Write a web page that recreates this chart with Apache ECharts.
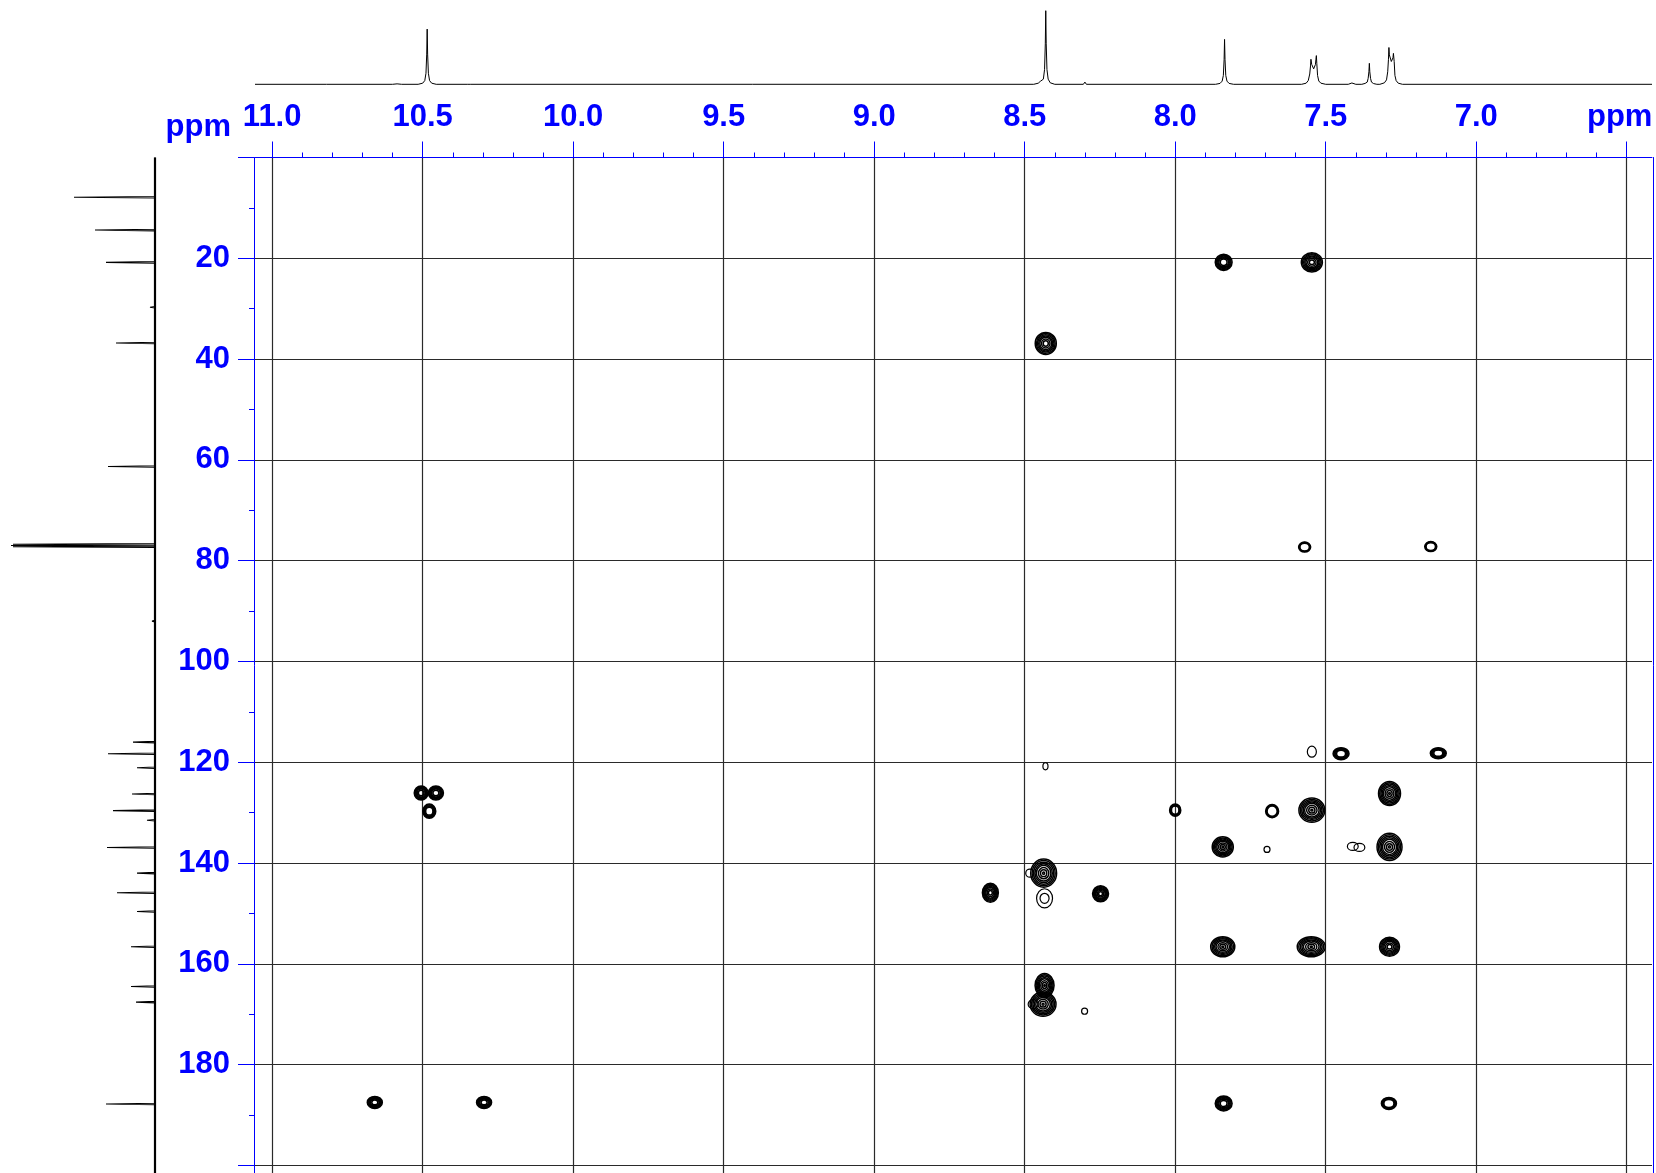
<!DOCTYPE html>
<html>
<head>
<meta charset="utf-8">
<script src="https://cdn.jsdelivr.net/npm/echarts@6/dist/echarts.min.js"></script>
<style>
html,body{margin:0;padding:0;background:#ffffff;}
#chart{width:1656px;height:1173px;}
</style>
</head>
<body>
<div id="chart"></div>
<script>
// ---------- data ----------
// 1H (F2) axis range and ticks (ppm)
const X_MIN = 6.416;
const X_MAX = 11.057;
const X_TICKS = [11.0, 10.5, 10.0, 9.5, 9.0, 8.5, 8.0, 7.5, 7.0, 6.5];
const X_MINOR = [10.9,10.8,10.7,10.6,10.4,10.3,10.2,10.1,9.9,9.8,9.7,9.6,9.4,9.3,9.2,9.1,
                 8.9,8.8,8.7,8.6,8.4,8.3,8.2,8.1,7.9,7.8,7.7,7.6,7.4,7.3,7.2,7.1,6.9,6.8,6.7,6.6];
// 13C (F1) axis range and ticks (ppm)
const Y_MIN = 0;
const Y_MAX = 201.5;
const Y_TICKS = [0, 20, 40, 60, 80, 100, 120, 140, 160, 180, 200];
const Y_LABELS = [20, 40, 60, 80, 100, 120, 140, 160, 180];
const Y_MINOR = [10, 30, 50, 70, 90, 110, 130, 150, 170, 190];

// 1H projection trace: [ppm, intensity]
const H1_TRACE = [
  [11.057, 0],
  [10.82, 0], [10.817, 0.8], [10.814, 0],
  [10.60, 0], [10.585, 0.6], [10.57, 0],
  [10.515, 0], [10.500, 1.5], [10.493, 5], [10.489, 15], [10.4865, 41], [10.485, 75], [10.4835, 41], [10.481, 15], [10.477, 5], [10.470, 1.5], [10.455, 0],
  [10.35, 0], [10.345, 0.6], [10.34, 0],
  [8.47, 0], [8.455, 1.5], [8.448, 4], [8.443, 3], [8.438, 7], [8.434, 20], [8.4315, 55], [8.430, 100], [8.4285, 55], [8.426, 20], [8.422, 7], [8.415, 2], [8.40, 0],
  [8.305, 0], [8.300, 3], [8.295, 0],
  [7.866, 0], [7.851, 1.2], [7.844, 4.3], [7.840, 12], [7.8375, 34], [7.836, 61], [7.8345, 34], [7.832, 12], [7.828, 4.3], [7.821, 1.2], [7.806, 0],
  [7.58, 0], [7.565, 1.5], [7.558, 5], [7.553, 14], [7.5505, 25], [7.549, 34], [7.5465, 27], [7.540, 21], [7.534, 27], [7.5325, 34], [7.531, 39], [7.5295, 28], [7.527, 12], [7.523, 4.5], [7.516, 1.5], [7.50, 0],
  [7.425, 0], [7.413, 1.8], [7.408, 2.2], [7.40, 0],
  [7.38, 0], [7.369, 1.2], [7.362, 3], [7.359, 8], [7.3565, 17], [7.355, 28.5], [7.3535, 17], [7.351, 8], [7.348, 3], [7.341, 1], [7.33, 0],
  [7.32, 0], [7.305, 2], [7.298, 6], [7.294, 17], [7.2915, 34], [7.290, 50], [7.2885, 40], [7.282, 31], [7.2765, 36], [7.275, 42], [7.274, 44], [7.2725, 31], [7.270, 12], [7.266, 5], [7.259, 1.5], [7.245, 0],
  [6.416, 0]
];

// 13C projection lines: [ppm, intensity]
const C13_PEAKS = [
  [7.9, 81], [14.4, 60], [20.8, 49], [29.7, 5], [36.8, 39], [61.3, 47],
  [76.75, 142], [77.0, 144], [77.25, 142], [92.0, 3],
  [116.0, 22], [118.3, 47], [121.1, 18], [126.3, 23], [129.6, 42], [131.5, 8],
  [136.9, 48], [142.0, 18], [145.9, 38], [149.6, 18], [156.6, 24],
  [164.5, 24], [167.6, 19], [187.8, 49]
];

// HMBC cross peaks: [dH ppm, dC ppm, width H ppm, width C ppm, contour levels]
const CROSS_PEAKS = [
  [7.839, 20.8, 0.056, 3.2, 6],
  [7.546, 20.8, 0.070, 3.8, 7],
  [8.430, 36.9, 0.070, 4.4, 7],
  [7.570, 77.3, 0.040, 2.0, 3],
  [7.151, 77.2, 0.040, 2.0, 3],
  [7.546, 117.9, 0.030, 2.2, 1],
  [7.449, 118.3, 0.053, 2.4, 5],
  [7.126, 118.2, 0.053, 2.2, 5],
  [8.431, 120.8, 0.017, 1.4, 1],
  [7.288, 126.2, 0.073, 4.8, 8],
  [8.000, 129.5, 0.037, 2.4, 4],
  [7.678, 129.7, 0.043, 2.6, 3],
  [7.546, 129.5, 0.086, 4.8, 8],
  [7.842, 136.8, 0.070, 4.0, 8],
  [7.695, 137.3, 0.020, 1.2, 1],
  [7.410, 136.7, 0.036, 1.6, 1],
  [7.388, 136.9, 0.036, 1.6, 1],
  [7.288, 136.8, 0.083, 5.4, 8],
  [8.437, 142.0, 0.086, 5.6, 8],
  [8.483, 142.0, 0.027, 1.6, 1],
  [8.614, 145.9, 0.053, 3.8, 7],
  [8.248, 146.1, 0.053, 3.2, 7],
  [8.434, 147.0, 0.053, 3.8, 1],
  [8.434, 147.0, 0.030, 2.0, 1],
  [7.842, 156.6, 0.080, 4.0, 8],
  [7.548, 156.6, 0.093, 4.0, 8],
  [7.288, 156.6, 0.066, 3.8, 7],
  [8.434, 164.3, 0.063, 4.8, 8],
  [8.439, 168.0, 0.086, 4.8, 8],
  [8.472, 168.0, 0.033, 1.8, 1],
  [8.301, 169.4, 0.020, 1.2, 1],
  [7.839, 187.7, 0.056, 3.0, 6],
  [7.290, 187.7, 0.050, 2.4, 4],
  [10.505, 126.1, 0.046, 2.8, 6],
  [10.456, 126.1, 0.050, 2.8, 6],
  [10.478, 129.7, 0.043, 2.8, 5],
  [10.659, 187.5, 0.050, 2.4, 6],
  [10.296, 187.5, 0.050, 2.4, 6]
];

// ---------- build ----------
const BLUE = '#0000ff';
const FONT = '"Liberation Sans", Arial, Helvetica, sans-serif';
const GRIDLINE = { color: '#2a2a2a', width: 1.2 };

// 13C stick trace built from the peak list
const c13Trace = [[0, Y_MIN]];
C13_PEAKS.forEach(function (p) {
  c13Trace.push([0, p[0] - 0.15], [p[1], p[0]], [0, p[0] + 0.15]);
});
c13Trace.push([0, Y_MAX]);

const RING = [1, 0.89, 0.78, 0.67, 0.56, 0.4, 0.24, 0.08];
function renderPeak(params, api) {
  const c = api.coord([api.value(0), api.value(1)]);
  const s = api.size([api.value(2), api.value(3)]);
  const n = api.value(4);
  const kids = [];
  for (let k = 0; k < n; k++) {
    const f = RING[k];
    kids.push({
      type: 'ellipse',
      shape: { cx: c[0], cy: c[1], rx: Math.max(s[0] * f / 2, 0.7), ry: Math.max(s[1] * f / 2, 0.7) },
      style: { fill: 'none', stroke: '#000', lineWidth: n > 1 ? 1.5 : 1.2 }
    });
  }
  return { type: 'group', children: kids };
}

const chart = echarts.init(document.getElementById('chart'), null, { renderer: 'canvas' });
chart.setOption({
  animation: false,
  backgroundColor: '#ffffff',
  grid: [
    { left: 255, top: 157.5, width: 1397, height: 1015.6 },
    { left: 255, top: 10.7, width: 1397, height: 73.6 },
    { left: 0, top: 157.5, width: 155, height: 1015.6 }
  ],
  xAxis: [
    {
      gridIndex: 0, type: 'value', position: 'top', inverse: true,
      min: X_MIN, max: X_MAX, splitNumber: 9, offset: 2,
      axisLine: { show: true, lineStyle: { color: BLUE, width: 1 } },
      axisTick: { show: true, inside: false, length: 16, customValues: X_TICKS, lineStyle: { color: BLUE, width: 1 } },
      axisLabel: {
        show: true, customValues: X_TICKS, margin: 23,
        color: BLUE, fontSize: 31, fontWeight: 'bold', fontFamily: FONT,
        formatter: function (v) { return Math.abs(v - 6.5) < 1e-6 ? '{p|ppm}' : v.toFixed(1); },
        rich: { p: { color: BLUE, fontSize: 31, fontWeight: 'bold', fontFamily: FONT, padding: [0, 14, 0, 0] } }
      },
      splitLine: { show: true, lineStyle: GRIDLINE }
    },
    {
      gridIndex: 0, type: 'value', position: 'top', inverse: true,
      min: X_MIN, max: X_MAX, offset: 2,
      axisLine: { show: false },
      axisTick: { show: true, inside: false, length: 5, customValues: X_MINOR, lineStyle: { color: BLUE, width: 1 } },
      axisLabel: { show: false },
      splitLine: { show: false }
    },
    { gridIndex: 1, type: 'value', inverse: true, min: X_MIN, max: X_MAX, show: false },
    { gridIndex: 2, type: 'value', inverse: true, min: 0, max: 155, show: false }
  ],
  yAxis: [
    {
      gridIndex: 0, type: 'value', position: 'left', inverse: true,
      min: Y_MIN, max: Y_MAX, interval: 20, offset: 1,
      name: 'ppm', nameLocation: 'start', nameGap: 30,
      nameTextStyle: { color: BLUE, fontSize: 31, fontWeight: 'bold', fontFamily: FONT, align: 'right', verticalAlign: 'middle', padding: [0, 23, 0, 0] },
      axisLine: { show: true, lineStyle: { color: BLUE, width: 1 } },
      axisTick: { show: true, inside: false, length: 16, customValues: Y_TICKS, lineStyle: { color: BLUE, width: 1 } },
      axisLabel: { show: true, customValues: Y_LABELS, margin: 24, color: BLUE, fontSize: 31, fontWeight: 'bold', fontFamily: FONT },
      splitLine: { show: true, lineStyle: GRIDLINE }
    },
    {
      gridIndex: 0, type: 'value', position: 'left', inverse: true,
      min: Y_MIN, max: Y_MAX, interval: 20, offset: 1,
      axisLine: { show: false },
      axisTick: { show: true, inside: false, length: 5, customValues: Y_MINOR, lineStyle: { color: BLUE, width: 1 } },
      axisLabel: { show: false },
      splitLine: { show: false }
    },
    {
      gridIndex: 0, type: 'value', position: 'right', inverse: true,
      min: Y_MIN, max: Y_MAX, offset: 1,
      axisLine: { show: true, lineStyle: { color: BLUE, width: 1 } },
      axisTick: { show: false }, axisLabel: { show: false }, splitLine: { show: false }
    },
    { gridIndex: 1, type: 'value', min: 0, max: 100, show: false },
    { gridIndex: 2, type: 'value', inverse: true, min: Y_MIN, max: Y_MAX, show: false }
  ],
  series: [
    {
      name: 'HMBC', type: 'custom', coordinateSystem: 'cartesian2d',
      xAxisIndex: 0, yAxisIndex: 0, data: CROSS_PEAKS,
      encode: { x: 0, y: 1 }, renderItem: renderPeak, silent: true, clip: false
    },
    {
      name: '1H', type: 'line', xAxisIndex: 2, yAxisIndex: 3, data: H1_TRACE,
      symbol: 'none', showSymbol: false, clip: false, silent: true,
      lineStyle: { color: '#000', width: 1 }
    },
    {
      name: '13C base', type: 'line', xAxisIndex: 3, yAxisIndex: 4, data: [[0, Y_MIN], [0, Y_MAX]],
      symbol: 'none', showSymbol: false, clip: false, silent: true,
      lineStyle: { color: '#000', width: 2.2 }
    },
    {
      name: '13C', type: 'line', xAxisIndex: 3, yAxisIndex: 4, data: c13Trace,
      symbol: 'none', showSymbol: false, clip: false, silent: true,
      lineStyle: { color: '#000', width: 1.1 }
    }
  ]
});
</script>
</body>
</html>
